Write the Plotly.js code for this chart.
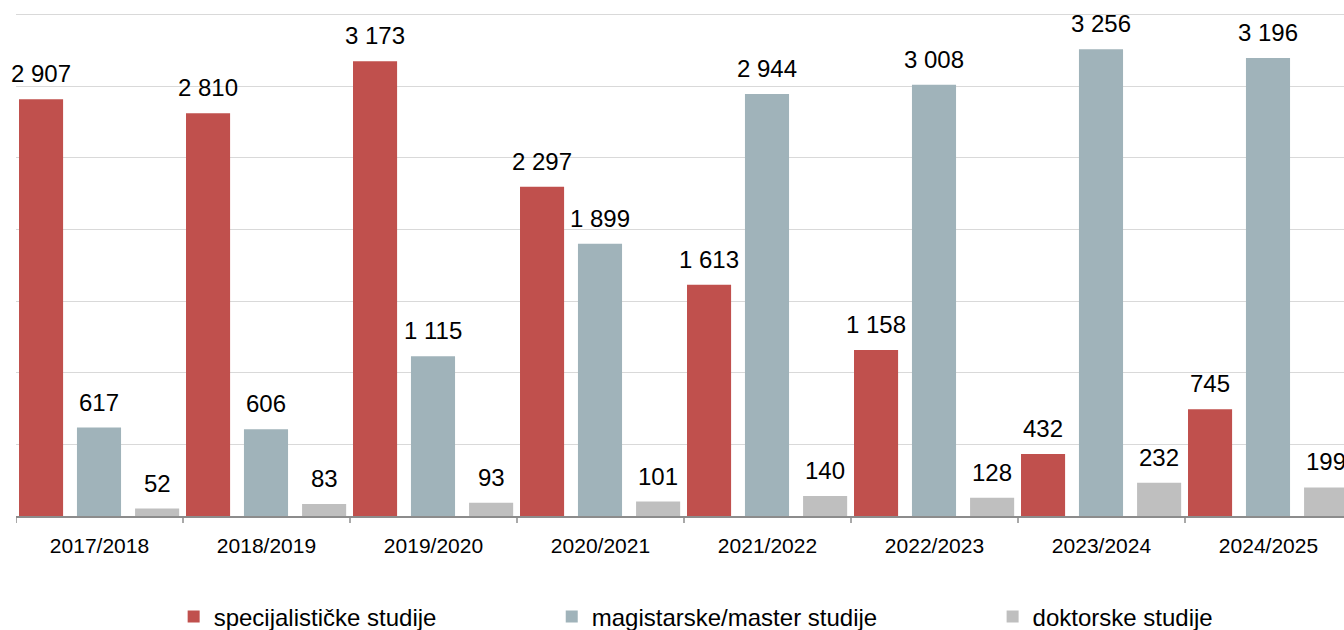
<!DOCTYPE html>
<html>
<head>
<meta charset="utf-8">
<script src="https://cdn.plot.ly/plotly-3.0.1.min.js"></script>
<style>
html,body{margin:0;padding:0;overflow:hidden;background:#fff;}
#chart{width:1360px;height:650px;}
</style>
</head>
<body>
<div id="chart"></div>
<script>
const categories = ["2017/2018","2018/2019","2019/2020","2020/2021","2021/2022","2022/2023","2023/2024","2024/2025"];
const specijalisticke = [2907, 2810, 3173, 2297, 1613, 1158, 432, 745];
const magistarske = [617, 606, 1115, 1899, 2944, 3008, 3256, 3196];
const doktorske = [52, 83, 93, 101, 140, 128, 232, 199];
const seriesNames = ["specijalističke studije", "magistarske/master studije", "doktorske studije"];

const colors = ["#C0504D", "#A0B3BA", "#BFBFBF"];
const barWidth = 0.264;
const offsets = [-0.482, -0.135, 0.213];
const legendIds = ["legend", "legend2", "legend3"];
const seriesData = [specijalisticke, magistarske, doktorske];

const xIdx = categories.map((c, i) => i);

const traces = seriesData.map((vals, s) => ({
  type: "bar",
  name: seriesNames[s],
  x: xIdx,
  y: vals,
  width: barWidth,
  offset: offsets[s],
  marker: {color: colors[s], line: {width: 0}},
  legend: legendIds[s],
  hoverinfo: "skip"
}));

function fmt(v) {
  return String(v).replace(/\B(?=(\d{3})+(?!\d))/g, " ");
}

const annotations = [];
seriesData.forEach((vals, s) => {
  vals.forEach((v, i) => {
    annotations.push({
      x: i + offsets[s] + barWidth / 2,
      y: v,
      xref: "x", yref: "y",
      text: fmt(v),
      showarrow: false,
      yanchor: "bottom",
      yshift: 10,
      font: {family: "Liberation Sans, Arial, sans-serif", size: 24, color: "#000"}
    });
  });
});

const legendFont = {family: "Liberation Sans, Arial, sans-serif", size: 24, color: "#000"};
const legendX = [0.118, 0.401, 0.731];
const layout = {
  width: 1360,
  height: 650,
  margin: {l: 16, r: 8, t: 0, b: 134},
  paper_bgcolor: "#fff",
  plot_bgcolor: "#fff",
  barmode: "overlay",
  showlegend: true,
  xaxis: {
    type: "linear",
    range: [-0.5, 7.5],
    tickvals: xIdx,
    ticktext: categories,
    showgrid: false,
    zeroline: false,
    showline: true,
    linecolor: "#8c8c8c",
    linewidth: 1.5,
    ticks: "",
    ticklabelstandoff: 10,
    tickfont: {family: "Liberation Sans, Arial, sans-serif", size: 21, color: "#000"},
    fixedrange: true,
    automargin: false
  },
  yaxis: {
    range: [0, 3600],
    dtick: 500,
    tick0: 0,
    showticklabels: false,
    showgrid: true,
    gridcolor: "#d9d9d9",
    gridwidth: 1,
    zeroline: false,
    showline: false,
    ticks: "",
    fixedrange: true,
    automargin: false
  },
  shapes: categories.concat([""]).map((c, i) => ({
    type: "line",
    xref: "x", yref: "paper",
    x0: i - 0.5, x1: i - 0.5,
    y0: 0, y1: -0.0135,
    line: {color: "#8c8c8c", width: 1.5}
  })),
  annotations: annotations
};
legendIds.forEach((id, s) => {
  layout[id] = {
    orientation: "h",
    x: legendX[s],
    xanchor: "left",
    y: -0.1957,
    yanchor: "middle",
    font: legendFont,
    bgcolor: "rgba(0,0,0,0)",
    itemclick: false,
    itemdoubleclick: false
  };
});

Plotly.newPlot("chart", traces, layout, {displayModeBar: false, staticPlot: true});
</script>
</body>
</html>
